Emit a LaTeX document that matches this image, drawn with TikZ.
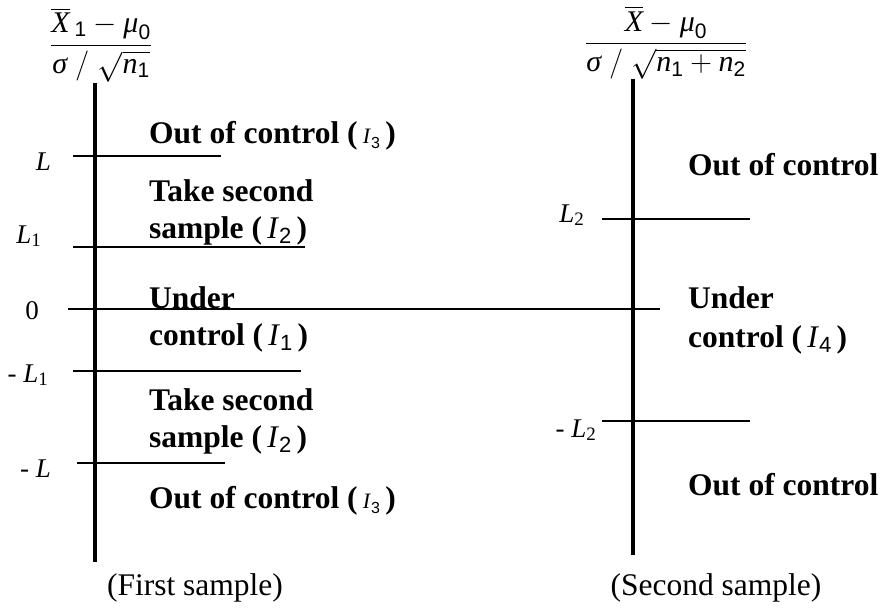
\RequirePackage{fix-cm}
\documentclass[tikz,border=0pt]{standalone}
\usepackage{amsmath}
\usepackage{fontspec}
\setmainfont{Liberation Serif}
\newfontfamily\arial{Liberation Sans}
\newcommand{\Isub}[1]{\textnormal{\itshape I}\raisebox{-5pt}{\arial\mdseries\fontsize{22}{22}\selectfont #1}}
\newcommand{\Ismall}[1]{\textnormal{\fontsize{22}{22}\selectfont\itshape I}\raisebox{-5pt}{\arial\mdseries\fontsize{16}{16}\selectfont #1}}
\newcommand{\Lsub}[1]{\textit{L}\raisebox{-3pt}{\fontsize{19}{19}\selectfont #1}}
\newcommand{\vit}[1]{\text{\itshape #1}}
\newcommand{\vsub}[1]{\text{\arial #1}}
\begin{document}
\begin{tikzpicture}[x=1pt,y=-1pt,
  axisline/.style={line width=4pt},
  limline/.style={line width=2.6pt},
  zeroline/.style={line width=1.3pt},
  lbl/.style={anchor=base west, inner sep=0pt, font=\fontsize{31.5}{34}\selectfont\bfseries},
  ticklbl/.style={anchor=base east, inner sep=0pt, font=\fontsize{27}{29}\selectfont},
  caption/.style={anchor=base, inner sep=0pt, font=\fontsize{31.5}{34}\selectfont},
  frac/.style={inner sep=0pt, font=\fontsize{30}{32}\selectfont}]
\path[use as bounding box] (0,0) rectangle (883,610);

% fractions
\node[frac] (f1) at (101,45) {$\dfrac{\overline{\vit{X}}\,{}_{\vsub{1}}-\vit{μ}_{\vsub{0}}}{\vit{σ}\;/\;\sqrt{\vit{n}_{\vsub{1}}}}$};
\node[frac] (f2) at (666,43) {$\dfrac{\overline{\vit{X}}-\vit{μ}_{\vsub{0}}}{\vit{σ}\;/\;\sqrt{\vit{n}_{\vsub{1}}+\vit{n}_{\vsub{2}}}}$};

% axes
\coordinate (a1t) at (95,83);  \coordinate (a1b) at (95,562);
\coordinate (a2t) at (633,79); \coordinate (a2b) at (633,555);
\draw[axisline] (a1t) -- (a1b);
\draw[axisline] (a2t) -- (a2b);

% limit lines, first sample
\coordinate (Ls) at (73,156);  \coordinate (Le) at (221,156);
\coordinate (L1s) at (73,247); \coordinate (L1e) at (305,247);
\coordinate (Zs) at (68,309);  \coordinate (Ze) at (660,309);
\coordinate (mL1s) at (73,371); \coordinate (mL1e) at (301,371);
\coordinate (mLs) at (77,463); \coordinate (mLe) at (225,463);
\draw[limline] (Ls) -- (Le);
\draw[limline] (L1s) -- (L1e);
\draw[zeroline] (Zs) -- (Ze);
\draw[limline] (mL1s) -- (mL1e);
\draw[limline] (mLs) -- (mLe);

% limit lines, second sample
\coordinate (L2s) at (602,219); \coordinate (L2e) at (750,219);
\coordinate (mL2s) at (602,421); \coordinate (mL2e) at (750,421);
\draw[limline] (L2s) -- (L2e);
\draw[limline] (mL2s) -- (mL2e);

% tick labels
\node[ticklbl] (tL) at (51,170) {\textit{L}};
\node[ticklbl] (tL1) at (41,243) {\Lsub{1}};
\node[ticklbl] (t0) at (39,319) {0};
\node[ticklbl] (tmL1) at (48,382) {- \Lsub{1}};
\node[ticklbl] (tmL) at (51,477) {- \textit{L}};
\node[ticklbl] (tL2) at (584,222) {\Lsub{2}};
\node[ticklbl] (tmL2) at (596,437) {- \Lsub{2}};

% region labels, first sample
\node[lbl] (r1) at (149,143) {Out of control (\,\Ismall{3}\,)};
\node[lbl] (r2a) at (149,201) {Take second};
\node[lbl] (r2b) at (149,238) {sample (\,\Isub{2}\,)};
\node[lbl] (r3a) at (149,308) {Under};
\node[lbl] (r3b) at (149,345) {control (\,\Isub{1}\,)};
\node[lbl] (r4a) at (149,410) {Take second};
\node[lbl] (r4b) at (149,447) {sample (\,\Isub{2}\,)};
\node[lbl] (r5) at (149,508) {Out of control (\,\Ismall{3}\,)};

% region labels, second sample
\node[lbl] (s1) at (688,175) {Out of control};
\node[lbl] (s2a) at (688,308) {Under};
\node[lbl] (s2b) at (688,347) {control (\,\Isub{4}\,)};
\node[lbl] (s3) at (688,495) {Out of control};

% captions
\node[caption] (c1) at (195,595) {(First sample)};
\node[caption] (c2) at (716,595) {(Second sample)};
\end{tikzpicture}
\end{document}
